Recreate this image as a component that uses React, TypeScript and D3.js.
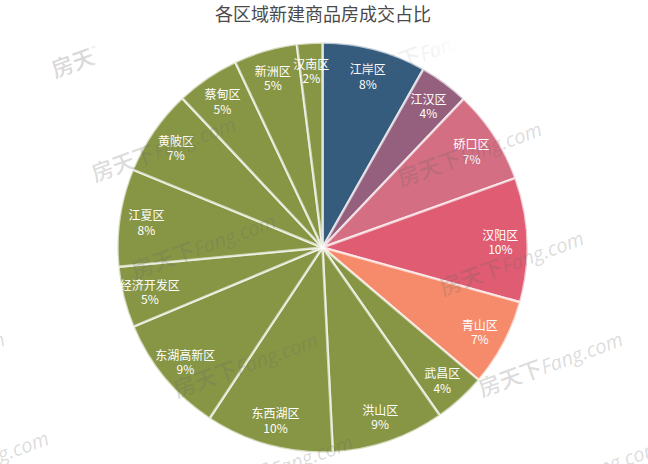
import React from "react";
import * as d3 from "d3";

const districts = ["江岸区", "江汉区", "硚口区", "汉阳区", "青山区", "武昌区", "洪山区", "东西湖区", "东湖高新区", "经济开发区", "江夏区", "黄陂区", "蔡甸区", "新洲区", "汉南区"];
const shares = [8.2, 3.9, 7.4, 9.8, 6.9, 4.1, 8.9, 10.1, 9.4, 4.8, 7.7, 6.8, 5.0, 5.0, 2.0];
const sliceColors = ["#355C7D", "#95607E", "#D46E82", "#DF5C72", "#F68B6B", "#879645", "#879645", "#879645", "#879645", "#879645", "#879645", "#879645", "#879645", "#879645", "#879645"];
const title = "各区域新建商品房成交占比";

const W = 648;
const H = 464;
const cx = 322.5;
const cy = 247.5;
const R = 205;
const labelR = 178;

// watermark anchors: [x, y, faded]
const marks: [number, number, number][] = [
  [55, 78, 1], [361, 84, 2],
  [95, 182, 0], [401, 187, 0],
  [135, 279, 0], [443, 296, 0],
  [-136, 397, 0], [177, 398, 0], [482, 397, 0],
  [-92, 496, 0], [212, 500, 0], [520, 505, 0],
];

export default function App() {
  const total = d3.sum(shares);
  const pie = d3.pie<number>().sort(null).value((d) => d).startAngle(0).endAngle(2 * Math.PI);
  const arcs = pie(shares);
  const arc = d3.arc<d3.PieArcDatum<number>>().innerRadius(0).outerRadius(R);
  const labelArc = d3.arc<d3.PieArcDatum<number>>().innerRadius(labelR).outerRadius(labelR);
  const font = "'Noto Sans CJK SC', 'Microsoft YaHei', sans-serif";

  return (
    <svg width={W} height={H} style={{ position: "absolute", left: 0, top: 0 }} xmlns="http://www.w3.org/2000/svg">
      <defs>
        <linearGradient id="fade1" x1="0" y1="0" x2="1" y2="0">
          <stop offset="0" stopColor="#666" stopOpacity="1" />
          <stop offset="0.25" stopColor="#666" stopOpacity="1" />
          <stop offset="0.34" stopColor="#666" stopOpacity="0" />
          <stop offset="1" stopColor="#666" stopOpacity="0" />
        </linearGradient>
        <linearGradient id="fade2" x1="0" y1="0" x2="1" y2="0">
          <stop offset="0" stopColor="#666" stopOpacity="0.35" />
          <stop offset="0.5" stopColor="#666" stopOpacity="0.35" />
          <stop offset="0.7" stopColor="#666" stopOpacity="0" />
          <stop offset="1" stopColor="#666" stopOpacity="0" />
        </linearGradient>
      </defs>
      <rect width={W} height={H} fill="#fff" />
      <text x={323} y={21} textAnchor="middle" fontFamily={font} fontSize={18} fill="#4a4a4a">
        {title}
      </text>
      <g transform={`translate(${cx},${cy})`}>
        {arcs.map((a, i) => (
          <path key={i} d={arc(a) || ""} fill={sliceColors[i]} stroke="#fff" strokeOpacity={0.65} strokeWidth={2.5} strokeLinejoin="round" />
        ))}
        {arcs.map((a, i) => {
          const [lx, ly] = labelArc.centroid(a);
          const pct = Math.round((shares[i] / total) * 100);
          return (
            <g key={"l" + i} fontFamily={font} fontSize={12} fill="#fff" textAnchor="middle">
              <text x={lx} y={ly - 1}>{districts[i]}</text>
              <text x={lx} y={ly + 13.5}>{pct + "%"}</text>
            </g>
          );
        })}
      </g>
      {marks.map(([x, y, f], i) => (
        <text
          key={"w" + i}
          transform={`translate(${x},${y}) rotate(-20)`}
          fill={f === 1 ? "url(#fade1)" : f === 2 ? "url(#fade2)" : "#666"}
          fillOpacity={f ? 0.25 : 0.24}
        >
          <tspan fontFamily={font} fontSize={22} fontWeight={500}>房天下</tspan>
          <tspan fontFamily="'Open Sans', sans-serif" fontSize={20} fontStyle="italic">Fang.com</tspan>
        </text>
      ))}
    </svg>
  );
}
